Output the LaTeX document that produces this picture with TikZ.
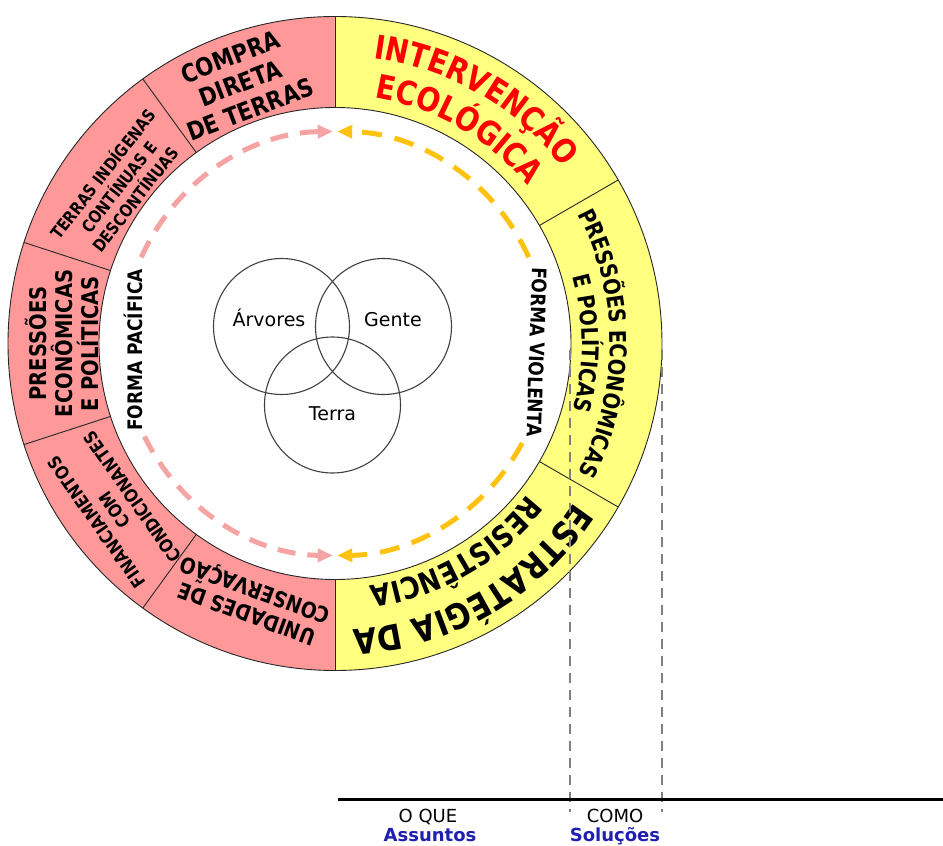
\documentclass[tikz,border=0pt]{standalone}
\usepackage{fontspec}
\setmainfont{DejaVu Sans}
\newfontfamily\rf{DejaVu Sans}[FakeStretch=0.85]
\usetikzlibrary{arrows.meta,decorations.text}
\newcommand\fsz[2]{\fontsize{#1}{#2}\selectfont}
\definecolor{ringpink}{HTML}{FF9999}
\definecolor{ringyellow}{HTML}{FFFF80}
\definecolor{dashpink}{HTML}{F5A3A3}
\definecolor{dashyellow}{HTML}{FFC20E}
\definecolor{redtxt}{HTML}{FF0000}
\definecolor{bluetxt}{HTML}{1F1FB0}
\begin{document}
\begin{tikzpicture}[x=1pt,y=1pt,
  ringline/.style={draw=black!85, line width=0.9pt},
  segtext/.style={align=center, text=black, inner sep=0pt},
  venn/.style={draw=black!75, line width=1.1pt, circle, minimum size=136pt, inner sep=0pt},
  vlabel/.style={font=\fsz{19}{21}, anchor=base, inner sep=0pt},
  pinkflow/.style={draw=dashpink, line width=5pt, dash pattern=on 18pt off 12pt, -{Triangle[length=15pt,width=13pt]}},
  yellowflow/.style={draw=dashyellow, line width=5pt, dash pattern=on 20pt off 13pt, -{Triangle[length=15pt,width=13pt]}},
  guide/.style={draw=black!50, line width=2.4pt, dash pattern=on 10pt off 7pt},
  formtext/.style={font=\rf\bfseries\fsz{20}{20}, inner sep=0pt},
  btext/.style={font=\fsz{18}{20}, anchor=base, inner sep=0pt},
]
\useasboundingbox (-335,-502.5) rectangle (608,343.5);

% ---- ring ----
\fill[ringpink] (90:327pt) arc[start angle=90,end angle=270,radius=327pt] -- (270:236pt) arc[start angle=270,end angle=90,radius=236pt] -- cycle;
\fill[ringyellow] (90:327pt) arc[start angle=90,end angle=-90,radius=327pt] -- (-90:236pt) arc[start angle=-90,end angle=90,radius=236pt] -- cycle;
\draw[ringline] (0,0) circle[radius=327pt];
\draw[ringline] (0,0) circle[radius=236pt];
\foreach \a in {90,126,162,198,234,270,30,-30} \draw[ringline] (\a:236pt) -- (\a:327pt);

% ---- pink segment texts ----
\node[segtext, font=\rf\bfseries\fsz{25}{28}, rotate=21] (s1) at (110:277pt) {COMPRA\\DIRETA\\DE TERRAS};
\node[segtext, font=\rf\bfseries\fsz{17}{20.5}, rotate=52] (s2) at (144:268pt) {TERRAS INDÍGENAS\\CONTÍNUAS E\\DESCONTÍNUAS};
\node[segtext, font=\rf\bfseries\fsz{23}{26}, rotate=90] (s3) at (180:273pt) {PRESSÕES\\ECONÔMICAS\\E POLÍTICAS};
\node[segtext, font=\rf\bfseries\fsz{18}{22}, rotate=125] (s4) at (217:276pt) {FINANCIAMENTOS\\COM\\CONDICIONANTES};
\node[segtext, font=\rf\bfseries\fsz{22}{25}, rotate=160] (s5) at (252:270pt) {UNIDADES DE\\CONSERVAÇÃO};

% ---- yellow segment texts (curved) ----
\path[decorate, decoration={text along path, text align=center,
  text={|\rf\bfseries\fsz{33}{33}\color{redtxt}|INTERVENÇÃO}}]
  (110:288pt) arc[start angle=110,end angle=10,radius=288pt];
\path[decorate, decoration={text along path, text align=center,
  text={|\rf\bfseries\fsz{33}{33}\color{redtxt}|ECOLÓGICA}}]
  (110:249pt) arc[start angle=110,end angle=10,radius=249pt];
\path[decorate, decoration={text along path, text align=center,
  text={|\rf\bfseries\fsz{23}{23}|PRESSÕES ECONÔMICAS}}]
  (50:275pt) arc[start angle=50,end angle=-50,radius=275pt];
\path[decorate, decoration={text along path, text align=center,
  text={|\rf\bfseries\fsz{23}{23}|E POLÍTICAS}}]
  (50:247pt) arc[start angle=50,end angle=-50,radius=247pt];
\path[decorate, decoration={text along path, text align=center,
  text={|\rf\bfseries\fsz{35}{35}|ESTRATÉGIA DA}}]
  (-10:287pt) arc[start angle=-10,end angle=-110,radius=287pt];
\path[decorate, decoration={text along path, text align=center,
  text={|\rf\bfseries\fsz{30}{30}|RESISTÊNCIA}}]
  (-10:245pt) arc[start angle=-10,end angle=-110,radius=245pt];

% ---- dashed flows ----
\coordinate (pu0) at (156:212pt);
\coordinate (pd0) at (206:212pt);
\coordinate (yu0) at (24:212pt);
\coordinate (yd0) at (-28:212pt);
\draw[pinkflow] (pu0) arc[start angle=156,end angle=90.6,radius=212pt];
\draw[pinkflow] (pd0) arc[start angle=206,end angle=269.4,radius=212pt];
\draw[yellowflow] (yu0) arc[start angle=24,end angle=89.4,radius=212pt];
\draw[yellowflow] (yd0) arc[start angle=-28,end angle=-89.4,radius=212pt];

\node[formtext, rotate=90] (fp) at (-202,-6.5) {FORMA PACÍFICA};
\node[formtext, rotate=-92] (fv) at (202,-8.5) {FORMA VIOLENTA};

% ---- Venn ----
\node[venn] (cA) at (-53.5,17) {};
\node[venn] (cG) at (48.5,17) {};
\node[venn] (cT) at (-2.5,-61.5) {};
\node[vlabel] (lA) at (-66,16.5) {Árvores};
\node[vlabel] (lG) at (58,16.5) {Gente};
\node[vlabel] (lT) at (-2.5,-76.5) {Terra};

% ---- guides and baseline ----
\coordinate (g1t) at (235,-6.5);
\coordinate (g1b) at (235,-468.5);
\coordinate (g2t) at (327,-6.5);
\coordinate (g2b) at (327,-468.5);
\draw[guide] (g1t) -- (g1b);
\draw[guide] (g2t) -- (g2b);
\coordinate (bl) at (3,-455.5);
\coordinate (br) at (608,-455.5);
\draw[line width=3pt] (bl) -- (br);

\node[btext] (oque) at (93,-479) {O QUE};
\node[btext, font=\bfseries\fsz{18}{20}, text=bluetxt] (assun) at (95,-497.5) {Assuntos};
\node[btext] (como) at (280,-479) {COMO};
\node[btext, font=\bfseries\fsz{18}{20}, text=bluetxt] (solu) at (280,-497.5) {Soluções};
\end{tikzpicture}
\end{document}
